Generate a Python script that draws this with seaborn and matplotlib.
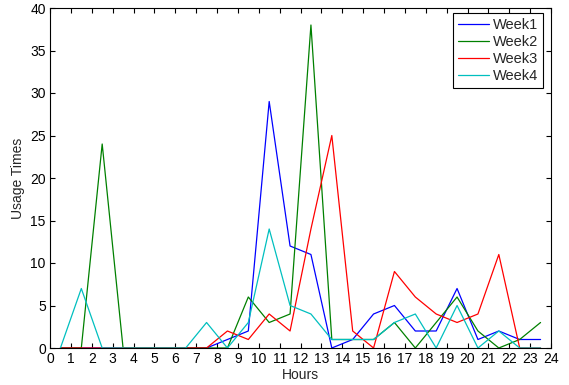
import numpy as np
import pandas as pd
import seaborn as sns
from matplotlib import pyplot as plt

# hourly usage counts, sampled at the half hour
hours = np.arange(24) + 0.5
week1 = [0, 0, 0, 0, 0, 0, 0, 0, 1, 2, 29, 12, 11, 0, 1, 4, 5, 2, 2, 7, 1, 2, 1, 1]
week2 = [0, 0, 24, 0, 0, 0, 0, 0, 0, 6, 3, 4, 38, 1, 1, 1, 3, 0, 3, 6, 2, 0, 1, 3]
week3 = [0, 0, 0, 0, 0, 0, 0, 0, 2, 1, 4, 2, 14, 25, 2, 0, 9, 6, 4, 3, 4, 11, 0, 0]
week4 = [0, 7, 0, 0, 0, 0, 0, 3, 0, 3, 14, 5, 4, 1, 1, 1, 3, 4, 0, 5, 0, 2, 0, 0]
week_names = ["Week1", "Week2", "Week3", "Week4"]
colors = ["#0000ff", "#008000", "#ff0000", "#00bfbf"]

frames = []
for name, vals in zip(week_names, [week1, week2, week3, week4]):
    frames.append(pd.DataFrame({"Hours": hours, "Usage Times": vals, "Week": name}))
df = pd.concat(frames, ignore_index=True)

sns.set_style("ticks")
plt.rcParams["font.family"] = ["Liberation Sans", "DejaVu Sans"]
plt.rcParams["font.size"] = 10

fig = plt.figure(figsize=(5.69, 3.85), dpi=100)
ax = fig.add_axes([50 / 569, 1 - 348 / 385, 501 / 569, 340 / 385])

sns.lineplot(data=df, x="Hours", y="Usage Times", hue="Week",
             palette=dict(zip(week_names, colors)), estimator=None,
             linewidth=0.9, ax=ax)

ax.set_xlim(0, 24)
ax.set_ylim(0, 40)
ax.set_xticks(range(0, 25))
ax.set_yticks(range(0, 41, 5))
ax.tick_params(direction="in", top=True, right=True, length=3.5, width=0.8,
               labelsize=10, colors="black", pad=3)
for s in ax.spines.values():
    s.set_visible(True)
    s.set_linewidth(0.8)
    s.set_color("black")
ax.set_xlabel("Hours", fontsize=10, labelpad=1)
ax.set_ylabel("Usage Times", fontsize=10, labelpad=4)

# legend box sits a little inside the top-right corner
handles, labels = ax.get_legend_handles_labels()
leg = ax.legend(handles, labels, loc="upper right", bbox_to_anchor=(0.985, 0.985),
                borderaxespad=0, fancybox=False, framealpha=1,
                edgecolor="black", fontsize=10.5, handlelength=2.1,
                handletextpad=0.3, labelspacing=0.2, borderpad=0.35)
leg.get_frame().set_linewidth(0.8)

fig.savefig("out.png", dpi=100)
